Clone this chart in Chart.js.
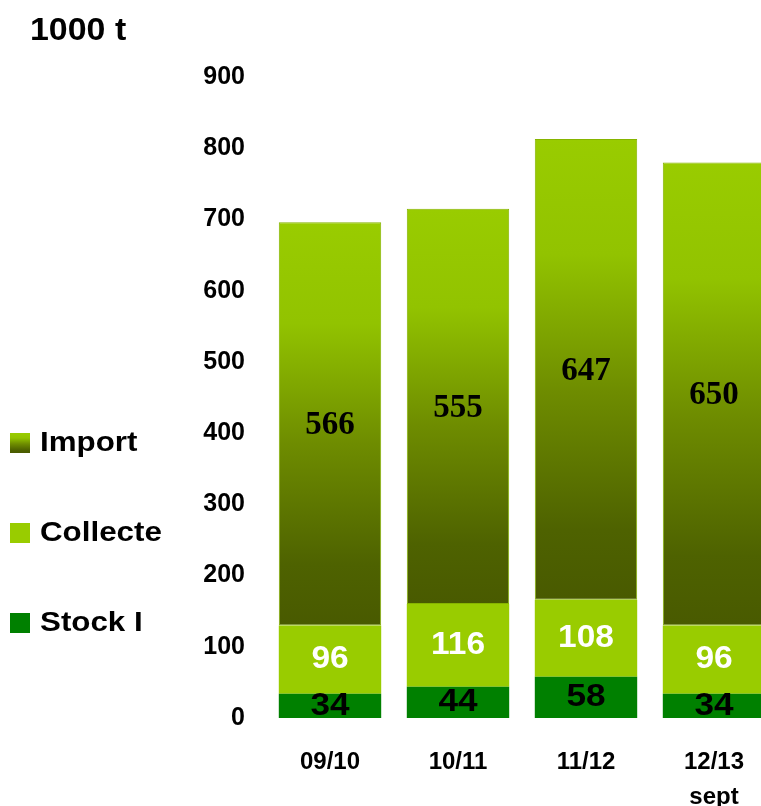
<!DOCTYPE html>
<html>
<head>
<meta charset="utf-8">
<script src="https://cdn.jsdelivr.net/npm/chart.js@4.4.1/dist/chart.umd.min.js"></script>
<style>
  html, body { margin: 0; padding: 0; background: #fff; overflow: hidden; }
  #grafica { position: absolute; left: 0; top: 0; }
</style>
</head>
<body>
<canvas id="grafica" width="790" height="806"></canvas>
<script>
// campagnes et tonnages (1000 t)
var campagnes = ["09/10", "10/11", "11/12", ["12/13", "sept"]];
var stockI = [34, 44, 58, 34];
var collecte = [96, 116, 108, 96];
var importT = [566, 555, 647, 650];
var ticksY = [0, 100, 200, 300, 400, 500, 600, 700, 800, 900];

var POLICE = "Arial, 'Liberation Sans', sans-serif";
var SERIF = "'Times New Roman', 'Liberation Serif', serif";

function remplirDegrade(g) {
  g.addColorStop(0, '#99cc00');
  g.addColorStop(0.25, '#92c300');
  g.addColorStop(0.55, '#6e8c00');
  g.addColorStop(0.85, '#4e6200');
  g.addColorStop(1, '#495a00');
  return g;
}

// degrade vertical sur chaque barre import
function degradeImport(context) {
  var chart = context.chart;
  var y = chart.scales.y;
  if (!chart.chartArea || !y || context.dataIndex === undefined) return '#7a9c00';
  var i = context.dataIndex;
  var bas = stockI[i] + collecte[i];
  var haut = bas + importT[i];
  var g = chart.ctx.createLinearGradient(0, y.getPixelForValue(haut), 0, y.getPixelForValue(bas));
  return remplirDegrade(g);
}

// texte un peu elargi comme dans la maquette
function texteLarge(c, txt, x, y, align, etire) {
  c.save();
  c.translate(x, y);
  c.scale(etire, 1);
  c.textAlign = align;
  c.fillText(txt, 0, 0);
  c.restore();
}

// style des valeurs ecrites dans les barres, par dataset
var stylesValeurs = [
  { font: "bold 32px " + POLICE, color: '#000000', dy: 0, etire: 1.1 },
  { font: "bold 31px " + POLICE, color: '#ffffff', dy: 0, etire: 1.08 },
  { font: "bold 33px " + SERIF, color: '#000000', dy: 2, etire: 1.0 }
];

var valeurs = {
  id: 'valeurs',
  afterDatasetsDraw: function(chart) {
    var c = chart.ctx;
    chart.data.datasets.forEach(function(ds, d) {
      var st = stylesValeurs[d];
      chart.getDatasetMeta(d).data.forEach(function(bar, i) {
        var p = bar.getProps(['x', 'y', 'base'], true);
        c.save();
        c.font = st.font;
        c.fillStyle = st.color;
        c.textBaseline = 'middle';
        texteLarge(c, ds.data[i], p.x, (p.y + p.base) / 2 + st.dy, 'center', st.etire);
        c.restore();
      });
    });
  }
};

// titre d'unite et legende a gauche
var legendeGauche = {
  id: 'legendeGauche',
  afterDraw: function(chart) {
    var c = chart.ctx;
    c.save();
    c.fillStyle = '#000';
    c.font = "bold 32px " + POLICE;
    c.textBaseline = 'middle';
    texteLarge(c, '1000 t', 30, 31, 'left', 1.06);

    var lignes = [443, 533, 623];
    var ordre = [2, 1, 0];
    c.font = "bold 27px " + POLICE;
    ordre.forEach(function(d, k) {
      var ds = chart.data.datasets[d];
      var yc = lignes[k];
      if (d === 2) {
        c.fillStyle = remplirDegrade(c.createLinearGradient(0, yc - 10, 0, yc + 10));
      } else {
        c.fillStyle = ds.backgroundColor;
      }
      c.fillRect(10, yc - 10, 20, 20);
      c.fillStyle = '#000';
      texteLarge(c, ds.label, 40, yc + 1, 'left', 1.16);
    });
    c.restore();
  }
};

var chart = new Chart(grafica, {
  type: 'bar',
  data: {
    labels: campagnes,
    datasets: [
      { label: 'Stock I', data: stockI, backgroundColor: '#008000' },
      { label: 'Collecte', data: collecte, backgroundColor: '#99cc00' },
      { label: 'Import', data: importT, backgroundColor: degradeImport,
        borderColor: '#86b400', borderWidth: 1, borderSkipped: false }
    ]
  },
  options: {
    responsive: false,
    animation: false,
    layout: { padding: { top: 77, right: 12, left: 0, bottom: 0 } },
    datasets: { bar: { barPercentage: 0.8, categoryPercentage: 1 } },
    plugins: { legend: { display: false }, tooltip: { enabled: false } },
    scales: {
      x: {
        stacked: true,
        grid: { display: false, drawTicks: false },
        border: { display: false },
        ticks: {
          color: '#000',
          padding: 27,
          maxRotation: 0,
          font: { family: POLICE, size: 24, weight: 'bold', lineHeight: '35px' }
        },
        afterFit: function(axis) { axis.height = 88; }
      },
      y: {
        stacked: true,
        min: 0,
        max: 900,
        afterBuildTicks: function(axis) {
          axis.ticks = ticksY.map(function(v) { return { value: v }; });
        },
        grid: { display: false, drawTicks: false },
        border: { display: false },
        ticks: {
          color: '#000',
          padding: 21,
          font: { family: POLICE, size: 25, weight: 'bold' }
        },
        afterFit: function(axis) { axis.width = 266; }
      }
    }
  },
  plugins: [valeurs, legendeGauche]
});
</script>
</body>
</html>
